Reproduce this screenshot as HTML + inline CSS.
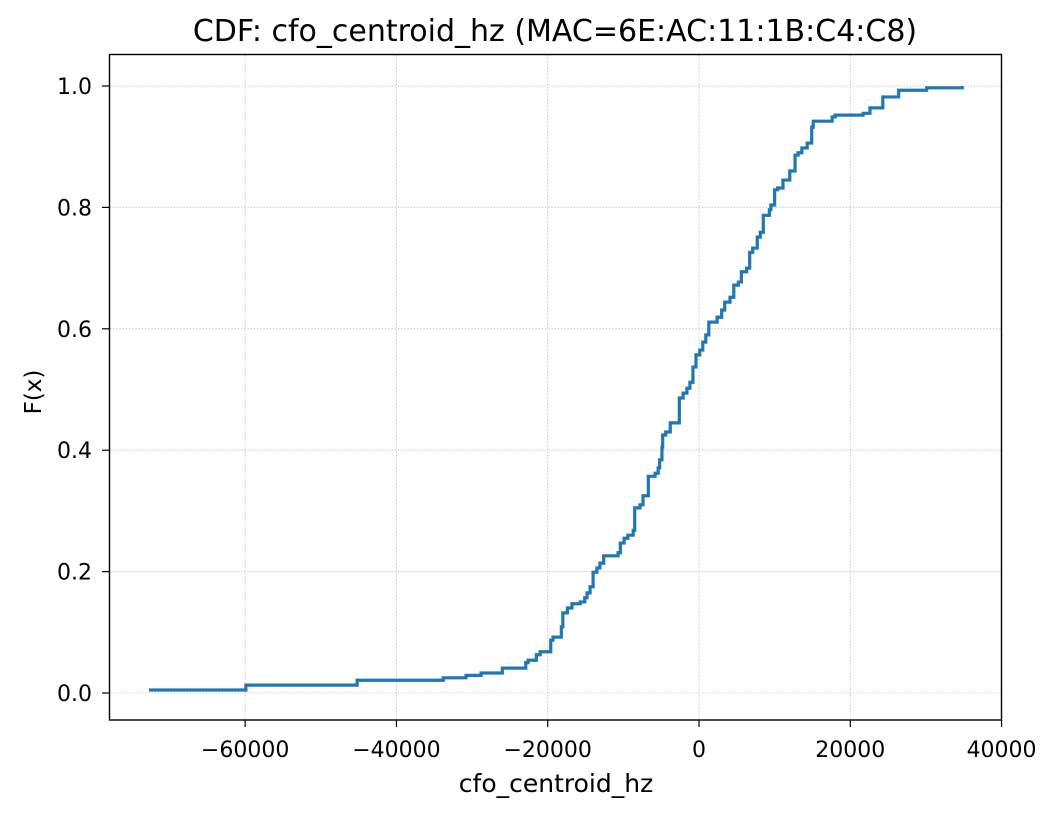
<!DOCTYPE html>
<html><head><meta charset="utf-8"><style>
body{margin:0;background:#fff}
svg text{font-family:"DejaVu Sans","Liberation Sans",sans-serif;fill:#000}
</style></head><body>
<svg id="chart" width="1059" height="815">
<rect width="1059" height="815" fill="#fff"/>
<text x="555" y="41" font-size="30" text-anchor="middle">CDF: cfo_centroid_hz (MAC=6E:AC:11:1B:C4:C8)</text>
<g id="grid"></g><g id="ticks"></g>
<path id="line" fill="none" stroke="#1f77b4" stroke-width="3.2"/>
<rect x="109.5" y="54.5" width="892" height="665.5" fill="none" stroke="#000" stroke-width="1.4"/>
<text x="556" y="792" font-size="25" text-anchor="middle">cfo_centroid_hz</text>
<text transform="translate(41,392) rotate(-90)" font-size="23" text-anchor="middle">F(x)</text>
</svg>
<script>
const xVals=[-72700,-59900,-45200,-33800,-30800,-28800,-26000,-22900,-22600,-21500,-21000,-19600,-19300,-18200,-18000,-17400,-16800,-15700,-15100,-14800,-14400,-14000,-13500,-13100,-12600,-10700,-10400,-9900,-9400,-8700,-8500,-7800,-7400,-6700,-5800,-5400,-5200,-4900,-4800,-4400,-3800,-2600,-2100,-1600,-1200,-800,-400,100,500,900,1300,2400,3000,3400,4100,4600,5200,5600,6300,6700,7100,7700,8100,8500,9300,9500,10000,10400,11100,12000,12700,13100,13600,14300,14900,15100,17600,18000,21700,22600,24300,26400,30100,34800];
const fVals=[0.005,0.013,0.021,0.025,0.029,0.033,0.041,0.050,0.054,0.063,0.068,0.087,0.092,0.109,0.132,0.140,0.147,0.150,0.157,0.165,0.175,0.199,0.206,0.214,0.226,0.231,0.247,0.255,0.260,0.268,0.305,0.310,0.325,0.357,0.362,0.371,0.384,0.405,0.425,0.430,0.445,0.486,0.494,0.502,0.512,0.537,0.557,0.565,0.578,0.590,0.611,0.619,0.631,0.644,0.652,0.672,0.677,0.694,0.700,0.726,0.733,0.751,0.759,0.787,0.796,0.804,0.829,0.832,0.845,0.860,0.886,0.890,0.898,0.906,0.932,0.942,0.949,0.952,0.955,0.964,0.982,0.993,0.997,1.000];
const xTicks=[-60000,-40000,-20000,0,20000,40000];
const xTickLabels=["\u221260000","\u221240000","\u221220000","0","20000","40000"];
const yTicks=[0,0.2,0.4,0.6,0.8,1.0];
const yTickLabels=["0.0","0.2","0.4","0.6","0.8","1.0"];
const X=v=>699+v/132.2;
const Y=v=>693-v*607;
const NS="http://www.w3.org/2000/svg";
const grid=document.getElementById('grid'),tk=document.getElementById('ticks');
function mk(tag,attrs,parent,txt){const e=document.createElementNS(NS,tag);for(const k in attrs)e.setAttribute(k,attrs[k]);if(txt!==undefined)e.textContent=txt;parent.appendChild(e);return e;}
xTicks.forEach((t,i)=>{const x=X(t);
 if(t<40000){const g=mk('line',{x1:x,x2:x,y1:55,y2:720,stroke:'#b0b0b0','stroke-width':0.8,'stroke-dasharray':'1.2,2'},grid);
 
 }
 const l=mk('line',{x1:x,x2:x,y1:720,y2:727,stroke:'#000','stroke-width':1.2},tk);
 
 
 const s=mk('text',{x:x,y:757,'font-size':22,'text-anchor':'middle'},tk,xTickLabels[i]);
 
 });
yTicks.forEach((t,i)=>{const y=Y(t);
 const g=mk('line',{x1:110,x2:1001,y1:y,y2:y,stroke:'#b0b0b0','stroke-width':0.8,'stroke-dasharray':'1.2,2'},grid);
 
 
 const l=mk('line',{x1:102,x2:109,y1:y,y2:y,stroke:'#000','stroke-width':1.2},tk);
 
 
 const s=mk('text',{x:92,y:y+8,'font-size':22,'text-anchor':'end'},tk,yTickLabels[i]);
 
 });
let d='M'+X(xVals[0])+','+Y(fVals[0]);
for(let i=1;i<xVals.length;i++){d+=' H'+X(xVals[i])+' V'+Y(fVals[i]);}
document.getElementById('line').setAttribute('d',d);
</script>
</body></html>
